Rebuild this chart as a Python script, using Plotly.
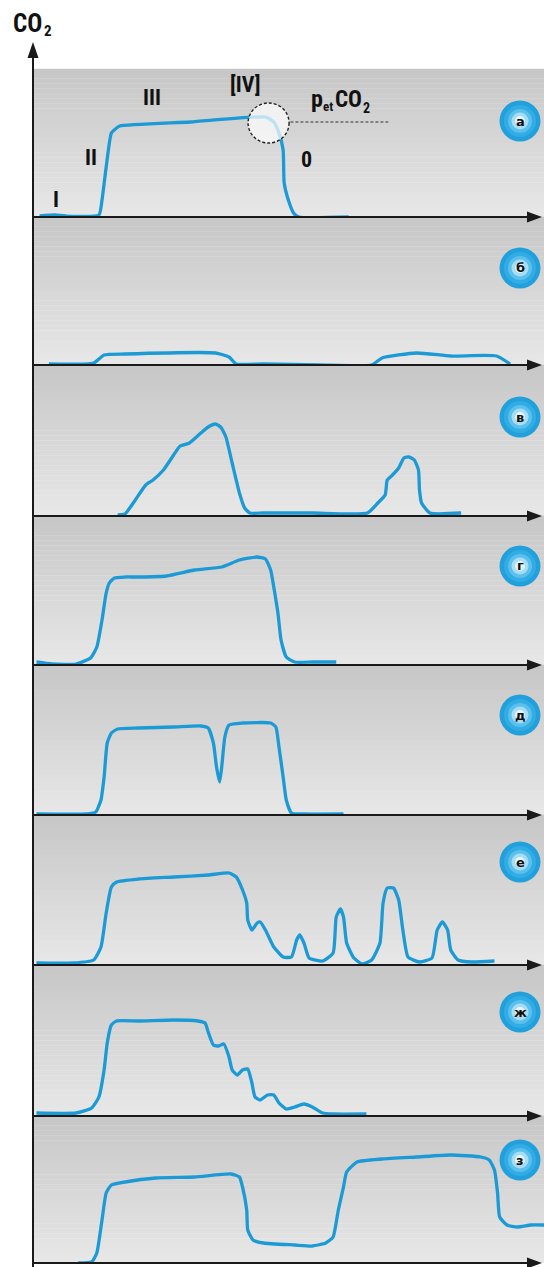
import plotly.graph_objects as go

W, H = 544, 1267

# ---------------- data (x: time units, y: CO2 level above each panel's baseline) -------------
panel_letters = ["а", "б", "в", "г", "д", "е", "ж", "з"]

a_x = [5, 20, 30, 62, 65, 69, 74, 79, 82, 150, 222, 230, 235, 239, 240, 244, 249, 254, 302]
a_y = [1, 2, 1, 2, 17, 50, 84, 89, 91, 95, 100, 95, 84, 67, 34, 17, 4, 0, 0]

b_x = [14, 57, 67, 87, 174, 187, 194, 220, 274, 324, 334, 367, 400, 444, 457]
b_y = [1, 2, 10, 11, 12, 8, 1, 1, 0, 0, 7, 12, 9, 9, 1]

c_x = [80, 87, 97, 107, 114, 124, 137, 140, 149, 160, 167, 174, 179, 184, 190, 197, 202,
       207, 220, 267, 320, 330, 337, 339, 344, 350, 355, 360, 365, 369, 370, 372, 380, 410]
c_y = [1, 2, 16, 31, 36, 46, 66, 70, 73, 83, 89, 92, 89, 79, 53, 23, 8, 3, 3, 3, 3, 13,
       21, 36, 41, 48, 58, 59, 56, 46, 26, 13, 3, 3]

d_x = [2, 17, 40, 54, 60, 65, 69, 72, 77, 87, 100, 127, 154, 180, 197, 214, 222, 227,
       230, 234, 237, 242, 250, 267, 290]
d_y = [3, 1, 1, 7, 18, 45, 72, 82, 87, 88, 88, 89, 95, 98, 105, 108, 106, 95, 78, 52,
       25, 8, 3, 3, 3]

e_x = [2, 50, 59, 64, 67, 70, 74, 80, 100, 134, 160, 167, 172, 175, 178, 180, 183, 187,
       200, 227, 232, 235, 239, 242, 247, 257, 297]
e_y = [1, 1, 3, 15, 38, 72, 82, 86, 87, 88, 89, 87, 72, 48, 33, 48, 78, 90, 92, 92, 88,
       68, 38, 15, 2, 1, 1]

f_x = [2, 37, 57, 64, 69, 74, 79, 100, 134, 167, 187, 194, 200, 204, 205, 209, 214, 217,
       222, 230, 239, 247, 252, 255, 259, 264, 277, 287, 290, 294, 297, 300, 307, 315, 324,
       332, 335, 339, 345, 350, 354, 359, 370, 382, 387, 392, 397, 400, 407, 420, 442]
f_y = [2, 2, 5, 18, 52, 78, 83, 86, 88, 90, 92, 88, 75, 62, 45, 35, 42, 43, 35, 18, 8, 8,
       25, 30, 22, 7, 4, 12, 48, 56, 48, 22, 7, 1, 5, 22, 62, 77, 77, 65, 35, 8, 3, 7, 35,
       43, 35, 15, 5, 3, 4]

g_x = [2, 40, 55, 62, 67, 70, 74, 79, 100, 134, 157, 164, 167, 172, 177, 182, 187, 190,
       195, 200, 205, 209, 212, 217, 224, 230, 235, 242, 250, 259, 267, 277, 287, 319]
g_y = [3, 3, 8, 19, 46, 73, 91, 95, 95, 96, 95, 93, 84, 71, 70, 72, 59, 46, 41, 46, 47,
       33, 19, 16, 21, 21, 13, 7, 9, 12, 9, 3, 2, 2]

h_x = [42, 55, 60, 65, 69, 74, 87, 117, 154, 189, 197, 200, 204, 205, 210, 220, 250, 267,
       280, 287, 292, 297, 300, 310, 334, 367, 400, 429, 437, 442, 445, 447, 454, 464, 477, 490]
h_y = [0, 1, 10, 43, 70, 78, 81, 85, 86, 89, 86, 76, 53, 33, 23, 20, 18, 17, 20, 26, 53,
       76, 91, 101, 104, 106, 108, 106, 103, 93, 70, 46, 38, 36, 38, 38]

series_x = [a_x, b_x, c_x, d_x, e_x, f_x, g_x, h_x]
series_y = [a_y, b_y, c_y, d_y, e_y, f_y, g_y, h_y]

petco2_level = 95          # end-tidal level marked in panel а
petco2_x = [246, 340]
phase_iv_x, phase_iv_y = 225, 94   # centre of the dashed [IV] circle

phase_labels = ["I", "II", "III", "[IV]", "0"]

# ---------------- layout geometry (pixels) ----------------
tops = [69, 217, 365, 516, 665, 815, 965, 1116]
bases = [217, 365, 516, 665, 815, 965, 1116, 1263]
badge_cy = [121, 268, 417, 566, 715, 862, 1012, 1160]
BADGE_CX = 520
phase_px = [(56, 199), (91, 157), (152, 97), (245, 84), (306, 160)]
AX_X = 33
XR = [-1.3, 489.6]          # time window shown on every panel

LINE = "#1c9ad6"
AXC = "#1a1a1a"
FONT = "Liberation Sans Narrow, Roboto Condensed, Roboto, sans-serif"


def px(x):
    return x / W


def py(y):
    return 1 - y / H


def tri(points):
    return "M " + " L ".join(f"{px(a):.5f},{py(b):.5f}" for a, b in points) + " Z"


def label(text, x, y, size, bold=True, xanchor="center"):
    return dict(x=px(x), y=py(y), xref="paper", yref="paper", text=text, showarrow=False,
                xanchor=xanchor, yanchor="middle",
                font=dict(family=FONT, size=size, color="#111",
                          weight="bold" if bold else "normal"))


fig = go.Figure()
shapes = []
annotations = []
layout_axes = {}

for i in range(8):
    n = "" if i == 0 else str(i + 1)
    yname = "y" + n
    layout_axes["yaxis" + n] = dict(
        domain=[py(bases[i]), py(tops[i])], range=[0, bases[i] - tops[i]],
        visible=False, fixedrange=True, anchor="x")
    fig.add_trace(go.Scatter(
        x=series_x[i], y=series_y[i], mode="lines", xaxis="x", yaxis=yname,
        line=dict(color=LINE, width=3.3, shape="spline", smoothing=0.5),
        hoverinfo="skip", showlegend=False, cliponaxis=False))

    # gradient background (darker top, lighter bottom)
    N = 30
    for k in range(N):
        t = k / (N - 1)          # 0 at bottom, 1 at top
        c = int(round(231 - 32 * t))
        shapes.append(dict(
            type="rect", xref="paper", yref=yname + " domain",
            x0=px(AX_X), x1=1, y0=k / N, y1=(k + 1) / N + 0.002,
            fillcolor=f"rgb({c},{c},{c})", line=dict(width=0), layer="below"))

    # x axis line with arrow head
    b = bases[i]
    shapes.append(dict(type="line", xref="paper", yref="paper",
                       x0=px(AX_X), x1=px(530), y0=py(b), y1=py(b),
                       line=dict(color=AXC, width=2), layer="above"))
    shapes.append(dict(type="path", xref="paper", yref="paper",
                       path=tri([(527, b - 5.5), (542, b), (527, b + 5.5)]),
                       fillcolor=AXC, line=dict(width=0), layer="above"))

    # badge
    cx, cy = BADGE_CX, badge_cy[i]
    for r, col in [(20.5, "#22a0db"), (16, "#32ace4"), (12, "#5cc0ec"),
                   (8.5, "#a6ddf5"), (5, "#e2f5fc")]:
        shapes.append(dict(
            type="circle", xref="paper", yref="paper",
            x0=px(cx - r), x1=px(cx + r), y0=py(cy + r), y1=py(cy - r),
            fillcolor=col, line=dict(width=0), layer="above"))
    annotations.append(dict(
        x=px(cx), y=py(cy), xref="paper", yref="paper", text="<b>" + panel_letters[i] + "</b>",
        xanchor="center", yanchor="middle",
        showarrow=False, font=dict(family="DejaVu Sans, Arial", size=13, color="#111")))

# y axis line with arrow head
shapes.append(dict(type="line", xref="paper", yref="paper",
                   x0=px(AX_X), x1=px(AX_X), y0=py(54), y1=py(1267),
                   line=dict(color=AXC, width=2), layer="above"))
shapes.append(dict(type="path", xref="paper", yref="paper",
                   path=tri([(AX_X - 5.5, 58), (AX_X, 42), (AX_X + 5.5, 58)]),
                   fillcolor=AXC, line=dict(width=0), layer="above"))

# CO2 axis title (main text + subscript)
annotations.append(label("CO", 11, 23, 25, xanchor="left"))
annotations.append(label("2", 42, 31, 15, xanchor="left"))

# phase labels in panel а
for lab, (lx, ly) in zip(phase_labels, phase_px):
    annotations.append(label(lab, lx, ly, 22))

# p_etCO2 label (main text + subscripts)
annotations.append(label("p", 309, 99, 24, xanchor="left"))
annotations.append(label("et", 321, 107, 13, xanchor="left"))
annotations.append(label("CO", 333, 100, 23, xanchor="left"))
annotations.append(label("2", 361, 108, 14, xanchor="left"))

# p_etCO2 dashed level line and dashed circle
shapes.append(dict(type="line", xref="x", yref="y", x0=petco2_x[0], x1=petco2_x[1],
                   y0=petco2_level, y1=petco2_level,
                   line=dict(color="#333", width=1, dash="3px,2px")))
shapes.append(dict(type="circle", xref="x", yref="y", xsizemode="pixel", ysizemode="pixel",
                   xanchor=phase_iv_x, yanchor=phase_iv_y, x0=-20.5, x1=20.5, y0=-20, y1=20,
                   fillcolor="rgba(255,255,255,0.7)",
                   line=dict(color="#222", width=1.4, dash="3px,2px"), layer="above"))

fig.update_layout(
    width=W, height=H, margin=dict(l=0, r=0, t=0, b=0),
    paper_bgcolor="white", plot_bgcolor="rgba(0,0,0,0)",
    xaxis=dict(domain=[px(AX_X), 1], range=XR, visible=False, fixedrange=True),
    shapes=shapes, annotations=annotations, showlegend=False,
    **layout_axes)

fig.write_html(
    "out.html",
    config={"displayModeBar": False},
    post_script="document.body.style.margin='0';document.body.style.overflow='hidden';",
)
